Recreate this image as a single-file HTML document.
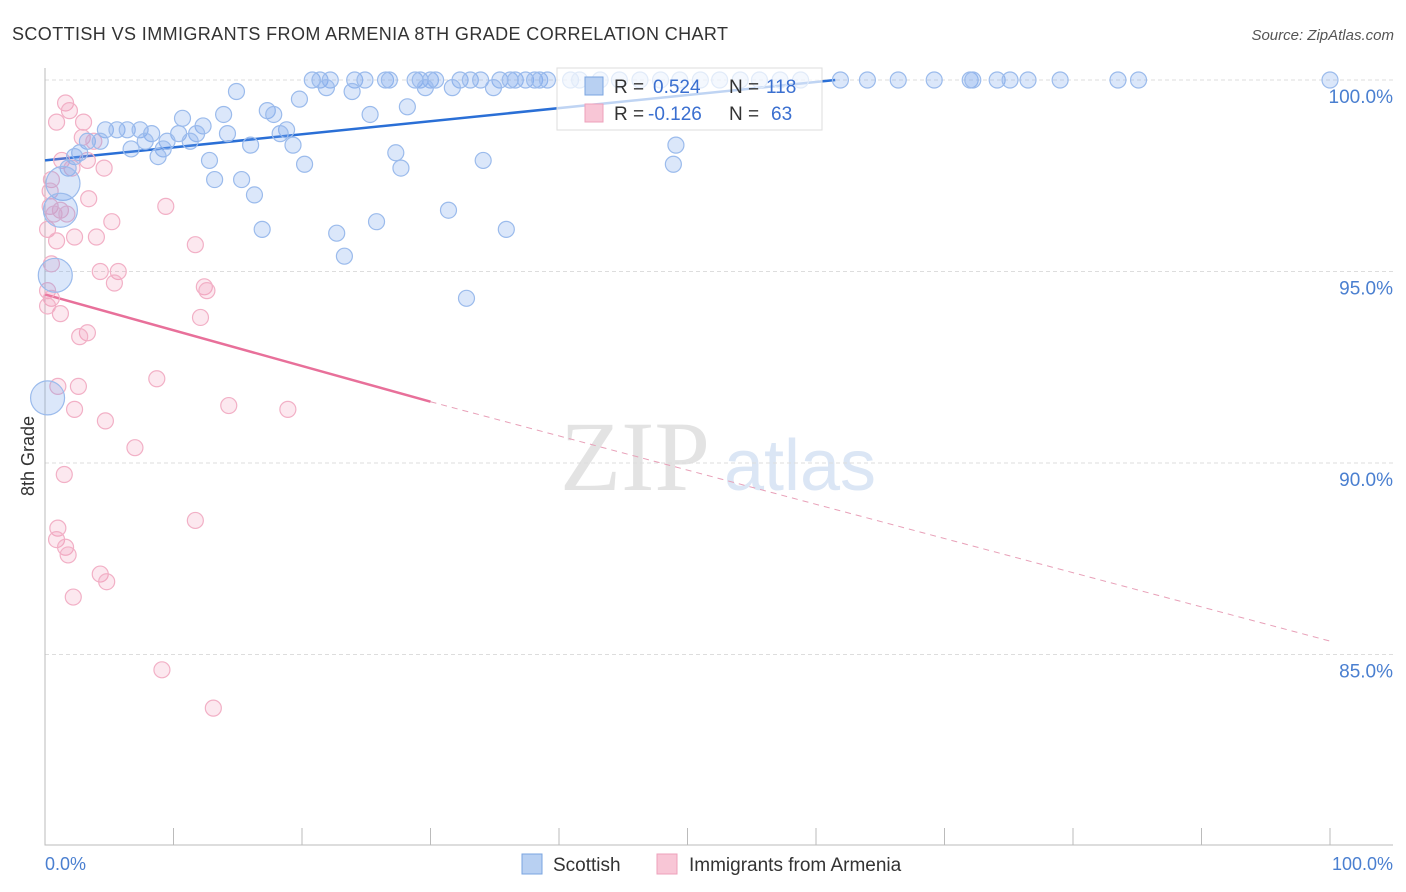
<!DOCTYPE html>
<html><head><meta charset="utf-8"><style>
body{margin:0;background:#fff;font-family:"Liberation Sans",sans-serif;}
svg{display:block}
</style></head><body>
<svg id="chart" width="1406" height="892" xmlns="http://www.w3.org/2000/svg">
<text x="12" y="40" font-size="18" fill="#333" textLength="716">SCOTTISH VS IMMIGRANTS FROM ARMENIA 8TH GRADE CORRELATION CHART</text>
<text x="1394" y="40" font-size="15" fill="#555" font-style="italic" text-anchor="end">Source: ZipAtlas.com</text>
<g>
<text x="635" y="490" font-size="100" font-family="Liberation Serif,serif" fill="#e3e3e3" text-anchor="middle">ZIP</text>
<text x="800" y="490" font-size="72" fill="#dbe6f5" text-anchor="middle">atlas</text>
</g>
<g id="grid"></g><g id="axes"></g><g id="trends"></g><g id="pts"></g>
<text transform="translate(34,456) rotate(-90)" font-size="18" fill="#333" text-anchor="middle">8th Grade</text>
<text x="45" y="870" font-size="18" fill="#4a7fd0">0.0%</text>
<text x="1393" y="870" font-size="18" fill="#4a7fd0" text-anchor="end">100.0%</text>
<g>
<rect x="557" y="68" width="265" height="62" fill="#fff" fill-opacity="0.7" stroke="#ddd"/>
<rect x="585" y="77" width="18" height="18" fill="#b8d0f2" stroke="#7aa4e0"/>
<rect x="585" y="104" width="18" height="18" fill="#f8c6d6" stroke="#eea0bb"/>
<text x="614" y="93" font-size="19" fill="#333">R = <tspan x="653" fill="#3a6fd0">0.524</tspan><tspan x="729" fill="#333">N = </tspan><tspan x="766" fill="#3a6fd0">118</tspan></text>
<text x="614" y="120" font-size="19" fill="#333">R = <tspan x="648" fill="#3a6fd0">-0.126</tspan><tspan x="729" fill="#333">N = </tspan><tspan x="771" fill="#3a6fd0">63</tspan></text>
</g>
<g><rect x="522" y="854" width="20" height="20" fill="#b8d0f2" stroke="#7aa4e0"/><text x="553" y="871" font-size="19" fill="#333">Scottish</text></g>
<g><rect x="657" y="854" width="20" height="20" fill="#f8c6d6" stroke="#eea0bb"/><text x="689" y="871" font-size="19" fill="#333">Immigrants from Armenia</text></g>
</svg>
<script>
const yTicks=[100,95,90,85];
const yTickLabels=["100.0%","95.0%","90.0%","85.0%"];
const xTicks=[0,10,20,30,40,50,60,70,80,90,100];
const blueTop=[20.8,21.4,22.2,24.1,24.9,26.5,26.8,28.8,29.2,30.0,30.4,32.3,33.1,33.9,35.4,36.2,36.6,37.4,38.1,38.5,39.1,40.9,41.6,43.2,44.7,46.3,47.9,49.4,51.0,52.5,54.1,55.6,57.2,58.8,61.9,64.0,66.4,69.2,72.0,72.2,74.1,75.1,76.5,79.0,83.5,85.1,100];
const blueX=[14.9,21.9,23.9,29.6,31.7,34.9,19.8,28.2,25.3,10.7,13.9,17.3,17.8,12.3,18.8,4.7,5.6,6.4,7.4,8.3,10.4,11.8,14.2,18.3,3.3,4.3,7.8,9.5,11.3,16.0,19.3,49.1,6.7,9.2,2.7,2.3,8.8,12.8,20.2,27.3,34.1,27.7,48.9,1.8,13.2,15.3,16.3,31.4,25.8,16.9,22.7,35.9,23.3,32.8];
const blueY=[99.7,99.8,99.7,99.8,99.8,99.8,99.5,99.3,99.1,99.0,99.1,99.2,99.1,98.8,98.7,98.7,98.7,98.7,98.7,98.6,98.6,98.6,98.6,98.6,98.4,98.4,98.4,98.4,98.4,98.3,98.3,98.3,98.2,98.2,98.1,98.0,98.0,97.9,97.8,98.1,97.9,97.7,97.8,97.7,97.4,97.4,97.0,96.6,96.3,96.1,96.0,96.1,95.4,94.3];
const blueBigX=[1.4,1.2,0.8,0.2];
const blueBigY=[97.3,96.6,94.9,91.7];
const pinkX=[1.6,0.9,1.9,3.0,2.9,3.8,1.3,3.3,4.6,2.1,0.5,3.4,0.4,1.2,0.7,1.7,5.2,9.4,0.2,2.3,0.9,4.0,11.7,5.7,4.3,5.4,12.4,12.6,0.2,0.5,1.2,12.1,3.3,2.7,8.7,2.6,1.0,14.3,2.3,18.9,4.7,7.0,1.5,11.7,1.0,0.9,1.6,1.8,4.3,4.8,2.2,9.1,13.1,0.2,0.5,0.4];
const pinkY=[99.4,98.9,99.2,98.9,98.5,98.4,97.9,97.9,97.7,97.7,97.4,96.9,96.7,96.6,96.5,96.5,96.3,96.7,96.1,95.9,95.8,95.9,95.7,95.0,95.0,94.7,94.6,94.5,94.5,94.3,93.9,93.8,93.4,93.3,92.2,92.0,92.0,91.5,91.4,91.4,91.1,90.4,89.7,88.5,88.3,88.0,87.8,87.6,87.1,86.9,86.5,84.6,83.6,94.1,95.2,97.1];
const blueTrend=[0,97.9,61.5,100];
const pinkTrend=[0,94.4,30,91.6,100,85.35];
const NS="http://www.w3.org/2000/svg";
const X=v=>45+v*12.85, Y=v=>80+(100-v)*38.3;
function mk(p,t,a){const e=document.createElementNS(NS,t);for(const k in a)e.setAttribute(k,a[k]);document.getElementById(p).appendChild(e);return e;}
yTicks.forEach((t,i)=>{
 const g=mk('grid','line',{x1:45,x2:1393,y1:Y(t),y2:Y(t),stroke:'#ddd','stroke-dasharray':'4,3'});
 
 
 const l=mk('grid','text',{x:1393,y:Y(t)+23,'font-size':19,fill:'#4a7fd0','text-anchor':'end'});
 l.textContent=yTickLabels[i];
 
 
});
const ax=mk('axes','path',{d:'M45,68V845H1393',fill:'none',stroke:'#bbb'});


xTicks.forEach(t=>{
 const k=mk('axes','line',{x1:X(t),x2:X(t),y1:828,y2:845,stroke:'#bbb'});
 
 
});
function dot(x,y,r,blue){
 const c=mk('pts','circle',{cx:X(x),cy:Y(y),r:r,fill:blue?'rgba(110,160,235,0.25)':'rgba(240,140,175,0.2)',stroke:blue?'#9bbbec':'#f2b0c6','stroke-width':1.2});
 
 
}
pinkX.forEach((x,i)=>dot(x,pinkY[i],8,false));
blueTop.forEach(x=>dot(x,100,8,true));
blueX.forEach((x,i)=>dot(x,blueY[i],8,true));
blueBigX.forEach((x,i)=>dot(x,blueBigY[i],17,true));
const bt=mk('trends','line',{x1:X(blueTrend[0]),y1:Y(blueTrend[1]),x2:X(blueTrend[2]),y2:Y(blueTrend[3]),stroke:'#2a6fd6','stroke-width':2.5});


const pt=mk('trends','line',{x1:X(pinkTrend[0]),y1:Y(pinkTrend[1]),x2:X(pinkTrend[2]),y2:Y(pinkTrend[3]),stroke:'#e8709a','stroke-width':2.5});


const pd=mk('trends','line',{x1:X(pinkTrend[2]),y1:Y(pinkTrend[3]),x2:X(pinkTrend[4]),y2:Y(pinkTrend[5]),stroke:'#e8a0b8','stroke-width':1,'stroke-dasharray':'6,5'});


</script>
</body></html>
